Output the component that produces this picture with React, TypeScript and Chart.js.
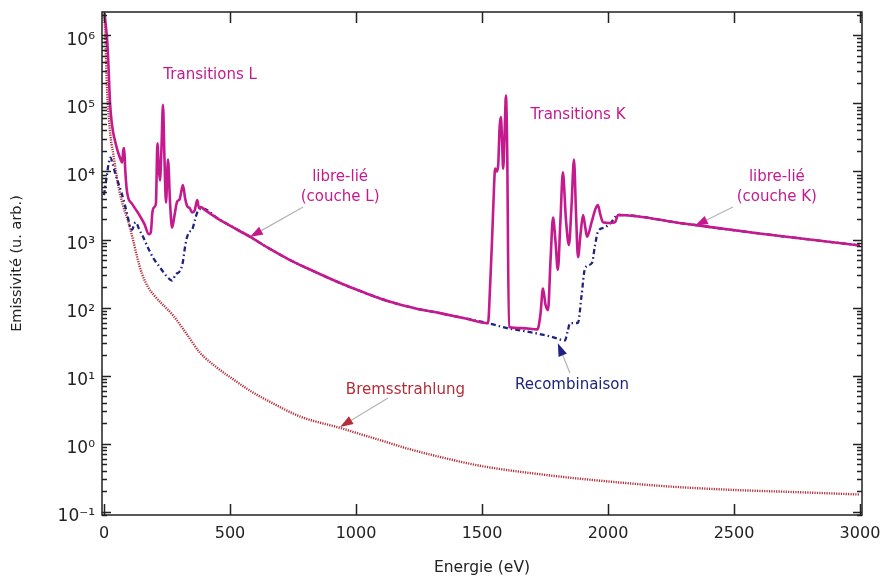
import React, { useEffect, useRef } from 'react';
import { Chart, registerables } from 'chart.js';

Chart.register(...registerables);

// ---------- data ----------
const totalEnergy = [
  2, 8, 12, 16, 20, 24, 30, 36, 46, 56, 66, 72, 76, 80, 84, 90, 97, 110, 125, 140,
  160, 178, 186, 192, 200, 206, 212, 217, 222, 228, 234, 240, 246, 254, 262, 270, 280, 290, 300, 313,
  322, 330, 340, 350, 360, 370, 377, 385, 393, 450, 500, 579, 650, 738, 830, 937, 1035, 1135, 1233, 1333,
  1430, 1524, 1532, 1540, 1547, 1552, 1558, 1564, 1570, 1575, 1580, 1584, 1590, 1595, 1600, 1607, 1660, 1720, 1732, 1742,
  1752, 1762, 1772, 1782, 1792, 1801, 1811, 1821, 1833, 1845, 1855, 1865, 1873, 1881, 1891, 1901, 1910, 1917, 1935, 1950,
  1960, 1970, 1980, 2010, 2028, 2040, 2300, 2600, 3000,
];
const totalValue = [
  2.1e6, 1.3e6, 9e5, 5e5, 2.2e5, 1e5, 5.5e4, 3.8e4, 2.6e4, 1.9e4, 1.5e4, 1.35e4, 2.0e4, 2.2e4, 1.1e4, 5.5e3, 4.0e3, 3.4e3, 2.8e3, 2.3e3,
  1.7e3, 1.2e3, 1.3e3, 2.5e3, 3.0e3, 3.4e3, 2.6e4, 1.2e4, 7.4e3, 2.2e4, 9.5e4, 1.5e4, 3.5e3, 1.5e4, 3.5e3, 1.5e3, 2.3e3, 3.6e3, 3.9e3, 6.3e3,
  4.0e3, 3.1e3, 2.9e3, 2.5e3, 2.7e3, 3.8e3, 2.9e3, 3.0e3, 2.85e3, 2.05e3, 1.6e3, 1.1e3, 760, 500, 345, 230, 165, 122, 98, 83,
  70, 59, 200, 1.0e3, 5.0e3, 1.1e4, 1.0e4, 1.2e4, 4.5e4, 6.3e4, 2.5e4, 1.1e4, 4e4, 1.3e5, 2e4, 52, 50, 48, 80, 190,
  110, 92, 500, 2.1e3, 900, 360, 1.8e3, 9.7e3, 2.0e3, 830, 3.0e3, 1.5e4, 2.5e3, 550, 1.2e3, 2.3e3, 1.5e3, 1.1e3, 1.8e3, 2.8e3,
  3.2e3, 2.3e3, 1.8e3, 1.75e3, 1.8e3, 2.3e3, 1.72e3, 1.23e3, 820,
];

const recombEnergy = [
  0, 6, 12, 18, 26, 34, 44, 56, 70, 83, 95, 104, 112, 118, 125, 131, 140, 155, 175, 195,
  220, 245, 270, 285, 300, 312, 322, 330, 340, 350, 360, 370, 380, 393, 450, 500, 579, 650, 738, 830,
  937, 1035, 1135, 1233, 1333, 1430, 1524, 1600, 1700, 1780, 1829, 1840, 1849, 1881, 1895, 1909, 1936, 1948, 1960, 1985,
  2008, 2040, 2300, 2600, 3000,
];
const recombValue = [
  4.5e3, 6.5e3, 9e3, 1.3e4, 1.6e4, 1.3e4, 9.5e3, 6.9e3, 4.8e3, 3.2e3, 2.1e3, 1.5e3, 1.4e3, 1.6e3, 1.8e3, 1.7e3, 1.4e3, 1.1e3, 750, 540,
  400, 300, 250, 310, 340, 450, 800, 1.1e3, 1.3e3, 1.4e3, 1.9e3, 2.5e3, 2.8e3, 2.85e3, 2.05e3, 1.6e3, 1.1e3, 760, 500, 345,
  230, 165, 122, 98, 83, 70, 59, 50, 43, 37, 33, 45, 59, 60, 150, 380, 450, 800, 1.3e3, 1.5e3,
  1.7e3, 2.3e3, 1.72e3, 1.23e3, 820,
];

const bremsEnergy = [
  2, 6, 10, 15, 20, 25, 30, 37, 44, 56, 75, 95, 115, 131, 150, 175, 200, 275, 330, 380,
  450, 510, 580, 650, 780, 940, 1000, 1100, 1200, 1350, 1500, 1750, 2000, 2250, 2500, 2750, 3000,
];
const bremsValue = [
  2e6, 8e5, 2.5e5, 1e5, 5.6e4, 3.5e4, 2.5e4, 1.8e4, 1.2e4, 6.3e3, 3.2e3, 1.9e3, 1e3, 560, 320, 200, 150, 76, 40, 22,
  13, 9, 6, 4.3, 2.5, 1.7, 1.45, 1.12, 0.86, 0.62, 0.47, 0.35, 0.28, 0.235, 0.21, 0.195, 0.18,
];

const xTickValues = [0, 500, 1000, 1500, 2000, 2500, 3000];
const yTickValues = [0.1, 1, 10, 100, 1e3, 1e4, 1e5, 1e6];

// ---------- styles ----------
const MAGENTA = '#c41a8e';
const BLUE = '#1f227e';
const RED = '#b52d38';
const FONT = 'DejaVu Sans';

// annotation text and arrows, given in data coordinates (eV, emissivity)
const annotationLabels = [
  { lines: ['Transitions L'], x: 421, y: 2.6e5, color: MAGENTA },
  { lines: ['Transitions K'], x: 1881, y: 6.8e4, color: MAGENTA },
  { lines: ['libre-lié', '(couche L)'], x: 937, y: 5.9e3, color: MAGENTA },
  { lines: ['libre-lié', '(couche K)'], x: 2670, y: 5.9e3, color: MAGENTA },
  { lines: ['Bremsstrahlung'], x: 1196, y: 6.2, color: RED },
  { lines: ['Recombinaison'], x: 1857, y: 7.3, color: BLUE },
];
const annotationArrows = [
  { from: [790, 3.0e3], to: [579, 1.09e3], color: MAGENTA },
  { from: [2496, 3.0e3], to: [2345, 1.6e3], color: MAGENTA },
  { from: [1849, 11], to: [1801, 30], color: BLUE },
  { from: [1127, 4.7], to: [937, 1.77], color: RED },
];

const SUP: Record<string, string> = {
  '-': '⁻', '0': '⁰', '1': '¹', '2': '²', '3': '³', '4': '⁴', '5': '⁵', '6': '⁶', '7': '⁷', '8': '⁸', '9': '⁹',
};

const zip = (xs: number[], ys: number[]) => xs.map((x, i) => ({ x, y: ys[i] }));

const framePlugin = {
  id: 'frame',
  afterDatasetsDraw(chart: any) {
    const { ctx, chartArea, scales } = chart;
    const { left, right, top, bottom } = chartArea;
    const xs = scales.x;
    const ys = scales.y;
    ctx.save();
    // annotation arrows
    annotationArrows.forEach((a) => {
      const x1 = xs.getPixelForValue(a.from[0]);
      const y1 = ys.getPixelForValue(a.from[1]);
      const x2 = xs.getPixelForValue(a.to[0]);
      const y2 = ys.getPixelForValue(a.to[1]);
      const ang = Math.atan2(y2 - y1, x2 - x1);
      const headLen = 13;
      const headW = 4.5;
      const bx = x2 - headLen * Math.cos(ang);
      const by = y2 - headLen * Math.sin(ang);
      ctx.strokeStyle = '#b4b4b4';
      ctx.lineWidth = 1.2;
      ctx.beginPath();
      ctx.moveTo(x1, y1);
      ctx.lineTo(bx, by);
      ctx.stroke();
      ctx.fillStyle = a.color;
      ctx.beginPath();
      ctx.moveTo(x2, y2);
      ctx.lineTo(bx + headW * Math.sin(ang), by - headW * Math.cos(ang));
      ctx.lineTo(bx - headW * Math.sin(ang), by + headW * Math.cos(ang));
      ctx.closePath();
      ctx.fill();
    });
    // annotation texts
    ctx.font = `15px "${FONT}"`;
    ctx.textAlign = 'center';
    ctx.textBaseline = 'middle';
    annotationLabels.forEach((l) => {
      const cx = xs.getPixelForValue(l.x);
      const cy = ys.getPixelForValue(l.y);
      ctx.fillStyle = l.color;
      const lh = 20;
      l.lines.forEach((t, i) => {
        ctx.fillText(t, cx, cy + (i - (l.lines.length - 1) / 2) * lh);
      });
    });
    // frame and inward ticks
    ctx.strokeStyle = '#222';
    ctx.lineWidth = 1.5;
    ctx.beginPath();
    for (let e = -2; e <= 7; e++) {
      for (let m = 1; m <= 9; m++) {
        const v = m * Math.pow(10, e);
        if (v < ys.min || v > ys.max) continue;
        const py = Math.round(ys.getPixelForValue(v)) + 0.5;
        const len = m === 1 ? 9 : 5;
        ctx.moveTo(left, py);
        ctx.lineTo(left + len, py);
        ctx.moveTo(right, py);
        ctx.lineTo(right - len, py);
      }
    }
    xs.ticks.forEach((t: any) => {
      const px = Math.round(xs.getPixelForValue(t.value)) + 0.5;
      ctx.moveTo(px, bottom);
      ctx.lineTo(px, bottom - 11);
      ctx.moveTo(px, top);
      ctx.lineTo(px, top + 11);
    });
    ctx.stroke();
    ctx.strokeRect(left, top, right - left, bottom - top);
    ctx.restore();
  },
};

export default function App() {
  const ref = useRef<HTMLCanvasElement>(null);
  useEffect(() => {
    if (!ref.current) return;
    Chart.defaults.font.family = FONT;
    const chart = new Chart(ref.current, {
      type: 'line',
      data: {
        datasets: [
          {
            label: 'Total',
            data: zip(totalEnergy, totalValue),
            borderColor: MAGENTA,
            borderWidth: 2.6,
            pointRadius: 0,
            cubicInterpolationMode: 'monotone',
          },
          {
            label: 'Recombinaison',
            data: zip(recombEnergy, recombValue),
            borderColor: BLUE,
            borderWidth: 2.3,
            borderDash: [5, 3, 1.5, 3],
            pointRadius: 0,
            cubicInterpolationMode: 'monotone',
          },
          {
            label: 'Bremsstrahlung',
            data: zip(bremsEnergy, bremsValue),
            borderColor: RED,
            borderWidth: 2.4,
            borderDash: [1.2, 1.2],
            pointRadius: 0,
            cubicInterpolationMode: 'monotone',
          },
        ],
      },
      options: {
        animation: false,
        responsive: false,
        devicePixelRatio: 1,
        layout: { padding: { left: 0, right: 0, top: 12, bottom: 0 } },
        plugins: { legend: { display: false }, tooltip: { enabled: false } },
        scales: {
          x: {
            type: 'linear',
            min: -8,
            max: 3008,
            afterBuildTicks: (s: any) => {
              s.ticks = xTickValues.map((value) => ({ value }));
            },
            afterFit: (s: any) => {
              s.height = 66;
              s.paddingLeft = 0;
              s.paddingRight = 20;
            },
            grid: { display: false, drawTicks: false },
            border: { display: false },
            ticks: {
              color: '#222',
              font: { size: 16, family: FONT },
              padding: 9,
              maxRotation: 0,
              callback: (v: any) => String(v),
            },
            title: {
              display: true,
              text: 'Energie (eV)',
              color: '#222',
              font: { size: 15.5, family: FONT },
              padding: { top: 0, bottom: 4 },
            },
          },
          y: {
            type: 'logarithmic',
            min: 0.09,
            max: 2.2e6,
            afterBuildTicks: (s: any) => {
              s.ticks = yTickValues.map((value) => ({ value }));
            },
            afterFit: (s: any) => {
              s.width = 102;
              s.paddingTop = 0;
              s.paddingBottom = 0;
            },
            grid: { display: false, drawTicks: false },
            border: { display: false },
            ticks: {
              color: '#222',
              font: { size: 17, family: FONT },
              padding: 7,
              labelOffset: 5,
              callback: (v: any) => {
                const e = Math.round(Math.log10(Number(v)));
                return '10' + String(e).split('').map((c) => SUP[c]).join('');
              },
            },
            title: {
              display: true,
              text: 'Emissivité (u. arb.)',
              color: '#222',
              font: { size: 14.5, family: FONT },
              padding: { top: 9, bottom: 0 },
            },
          },
        },
      },
      plugins: [framePlugin],
    } as any);
    return () => chart.destroy();
  }, []);
  return (
    <div style={{ position: 'fixed', left: 0, top: 0, width: 882, height: 581, background: '#fff' }}>
      <canvas ref={ref} width={882} height={581} style={{ display: 'block' }} />
    </div>
  );
}
